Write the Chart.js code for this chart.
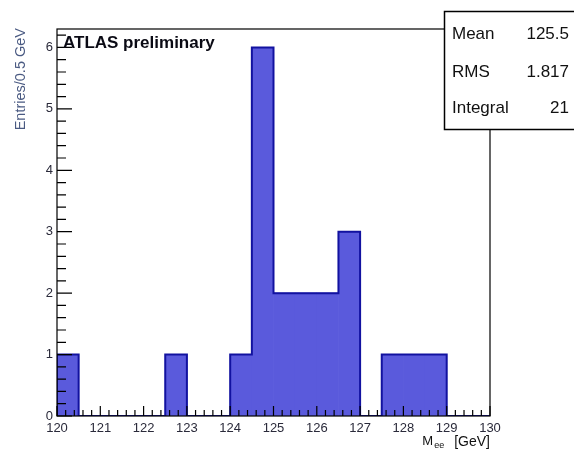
<!DOCTYPE html>
<html>
<head>
<meta charset="utf-8">
<title>Diphoton mass</title>
<script src="https://cdn.jsdelivr.net/npm/chart.js@4.4.1/dist/chart.umd.min.js"></script>
<style>
  html, body { margin: 0; padding: 0; background: #fff; overflow: hidden; }
  canvas { display: block; }
</style>
</head>
<body>
<canvas id="hist" width="574" height="450"></canvas>
<script>
// Histogram bins (low edges, GeV) and entries per bin
const binLowEdges = [120, 120.5, 121, 121.5, 122, 122.5, 123, 123.5, 124, 124.5,
                     125, 125.5, 126, 126.5, 127, 127.5, 128, 128.5, 129, 129.5];
const counts      = [1, 0, 0, 0, 0, 1, 0, 0, 1, 6,
                     2, 2, 2, 3, 0, 1, 1, 1, 0, 0];
const binWidth = 0.5;

// Axis ranges
const xRange = [120, 130];
const yRange = [0, 6.3];

// Statistics box
const statLabels = ['Mean', 'RMS', 'Integral'];
const statValues = ['125.5', '1.817', '21'];

const FONT = '"Liberation Sans", Arial, Helvetica, sans-serif';
const FILL = 'rgb(90, 90, 220)';
const LINE = 'rgb(18, 18, 160)';

const barData = binLowEdges.map((lo, i) => ({ x: lo + binWidth / 2, y: counts[i] }));
const outlineData = [{ x: binLowEdges[0], y: 0 }]
  .concat(binLowEdges.map((lo, i) => ({ x: lo, y: counts[i] })))
  .concat([{ x: binLowEdges[binLowEdges.length - 1] + binWidth, y: 0 }]);

// Frame and ROOT-style inward tick marks
const frameTicks = {
  id: 'frameTicks',
  afterDatasetsDraw(chart) {
    const { ctx, chartArea: a, scales: { x, y } } = chart;
    ctx.save();
    ctx.strokeStyle = '#000';
    ctx.lineWidth = 1.2;
    ctx.strokeRect(a.left, a.top, a.right - a.left, a.bottom - a.top);

    ctx.lineWidth = 1.2;
    ctx.beginPath();
    for (let i = 0; i * 0.2 <= yRange[1] + 1e-9; i++) {
      const v = i * 0.2;
      const py = y.getPixelForValue(v);
      const len = (i % 5 === 0) ? 15 : 9;
      ctx.moveTo(a.left, py);
      ctx.lineTo(a.left + len, py);
    }
    for (let i = 0; i <= 50; i++) {
      const v = xRange[0] + i * 0.2;
      const px = x.getPixelForValue(v);
      const len = (i % 5 === 0) ? 10 : 6;
      ctx.moveTo(px, a.bottom);
      ctx.lineTo(px, a.bottom - len);
    }
    ctx.stroke();
    ctx.restore();
  },
  afterDraw(chart) {
    const { ctx, chartArea: a } = chart;
    ctx.save();

    // Experiment label
    ctx.fillStyle = '#0a0a14';
    ctx.font = 'bold 17px ' + FONT;
    ctx.textAlign = 'left';
    ctx.textBaseline = 'alphabetic';
    ctx.fillText('ATLAS preliminary', 63, 48);

    // Y axis title
    ctx.save();
    ctx.translate(21, 28);
    ctx.rotate(-Math.PI / 2);
    ctx.fillStyle = '#4a5a82';
    ctx.font = '14.5px ' + FONT;
    ctx.textAlign = 'right';
    ctx.textBaseline = 'middle';
    ctx.fillText('Entries/0.5 GeV', 0, 0);
    ctx.restore();

    // X axis title: M_ee [GeV], right-aligned to the frame
    ctx.fillStyle = '#111';
    ctx.textBaseline = 'alphabetic';
    ctx.textAlign = 'right';
    ctx.font = '14px ' + FONT;
    const unit = '[GeV]';
    ctx.fillText(unit, a.right, 446);
    const unitW = ctx.measureText(unit).width;
    ctx.font = '9px ' + FONT;
    const subX = a.right - unitW - 10;
    ctx.fillText('ee', subX, 448);
    const subW = ctx.measureText('ee').width;
    ctx.font = '13px ' + FONT;
    ctx.fillText('M', subX - subW - 1, 445);

    // Statistics box
    ctx.fillStyle = '#fff';
    ctx.fillRect(444.5, 11.5, 140, 118);
    ctx.strokeStyle = '#000';
    ctx.lineWidth = 1.5;
    ctx.strokeRect(444.5, 11.5, 140, 118);
    ctx.fillStyle = '#111';
    ctx.font = '17px ' + FONT;
    const rowY = [39, 77, 113];
    statLabels.forEach((lab, i) => {
      ctx.textAlign = 'left';
      ctx.fillText(lab, 452, rowY[i]);
      ctx.textAlign = 'right';
      ctx.fillText(statValues[i], 569, rowY[i]);
    });
    ctx.restore();
  }
};

Chart.defaults.font.family = FONT;

new Chart(document.getElementById('hist'), {
  type: 'bar',
  data: {
    datasets: [
      {
        type: 'line',
        data: outlineData,
        stepped: true,
        borderColor: LINE,
        borderWidth: 2,
        pointRadius: 0,
        fill: false,
        tension: 0,
        order: 0
      },
      {
        type: 'bar',
        data: barData,
        backgroundColor: FILL,
        borderWidth: 0,
        barPercentage: 1,
        categoryPercentage: 1,
        order: 1
      }
    ]
  },
  options: {
    responsive: false,
    animation: false,
    events: [],
    layout: { padding: { top: 29, right: 84, left: 0, bottom: 0 } },
    plugins: { legend: { display: false }, tooltip: { enabled: false }, title: { display: false } },
    scales: {
      x: {
        type: 'linear',
        min: xRange[0],
        max: xRange[1],
        offset: false,
        grid: { display: false, drawTicks: false, offset: false },
        border: { display: false },
        ticks: {
          stepSize: 1,
          autoSkip: false,
          maxRotation: 0,
          includeBounds: false,
          padding: 5,
          color: '#2a2a3a',
          font: { size: 13 }
        },
        afterFit(s) { s.height = 34; }
      },
      y: {
        type: 'linear',
        min: yRange[0],
        max: yRange[1],
        grid: { display: false, drawTicks: false },
        border: { display: false },
        ticks: {
          stepSize: 1,
          includeBounds: false,
          padding: 4,
          color: '#2a2a3a',
          font: { size: 13 },
          callback: (v) => Number.isInteger(v) ? String(v) : ''
        },
        afterFit(s) { s.width = 57; }
      }
    }
  },
  plugins: [frameTicks]
});
</script>
</body>
</html>
